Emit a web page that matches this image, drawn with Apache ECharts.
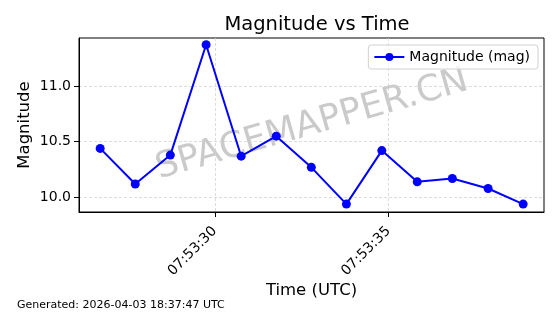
<!DOCTYPE html>
<html>
<head>
<meta charset="utf-8">
<script src="https://cdn.jsdelivr.net/npm/echarts@6/dist/echarts.min.js"></script>
<style>
html,body{margin:0;padding:0;background:#fff;}
#c{width:560px;height:314px;}
</style>
</head>
<body>
<div id="c"></div>
<script>
// Observation times (UTC, HH:MM:SS.ss)
var times = ["07:53:26.70","07:53:27.71","07:53:28.72","07:53:29.75","07:53:30.76","07:53:31.77",
             "07:53:32.78","07:53:33.79","07:53:34.81","07:53:35.83","07:53:36.84","07:53:37.87","07:53:38.88"];
// Magnitude values
var magnitudes = [10.44, 10.12, 10.38, 11.37, 10.37, 10.55, 10.27, 9.94, 10.42, 10.14, 10.17, 10.08, 9.94];
// Tick labels
var xTickLabels = ["07:53:30", "07:53:35"];
var yTickValues = [10.0, 10.5, 11.0];

function toSec(s){ var p = s.split(":"); return (+p[0])*3600 + (+p[1])*60 + (+p[2]); }
function fmt(v){
  var t = Math.round(v);
  var h = Math.floor(t/3600), m = Math.floor((t%3600)/60), s = t%60;
  function pad(n){ return (n<10?"0":"")+n; }
  return pad(h)+":"+pad(m)+":"+pad(s);
}
var xTickValues = xTickLabels.map(toSec);
var data = times.map(function(t,i){ return [toSec(t), magnitudes[i]]; });

var FONT = "DejaVu Sans";
var chart = echarts.init(document.getElementById('c'), null, {renderer:'canvas'});
chart.setOption({
  animation:false,
  backgroundColor:'#fff',
  textStyle:{fontFamily:FONT},
  title:{
    text:'Magnitude vs Time', left:312, top:10, textAlign:'center',
    textStyle:{fontFamily:FONT, fontSize:19.5, fontWeight:'normal', color:'#000'}
  },
  grid:{left:79, right:16, top:38, bottom:102, show:true, borderColor:'#000', borderWidth:1, backgroundColor:'transparent'},
  legend:{
    right:22, top:45, orient:'horizontal',
    padding:[5,8,5,5], itemWidth:30, itemHeight:10, itemGap:8,
    borderColor:'#d0d0d0', borderWidth:1, borderRadius:3, backgroundColor:'rgba(255,255,255,0.8)',
    textStyle:{fontFamily:FONT, fontSize:14, color:'#000'},
    data:['Magnitude (mag)']
  },
  xAxis:{
    type:'value', min:toSec("07:53:26.09"), max:toSec("07:53:39.48"),
    name:'Time (UTC)', nameLocation:'middle', nameGap:70, nameMoveOverlap:false,
    nameTextStyle:{fontFamily:FONT, fontSize:16.5, color:'#000'},
    axisLine:{show:true, lineStyle:{color:'#000', width:1}},
    axisTick:{show:true, length:5, lineStyle:{color:'#000'}, customValues:xTickValues},
    axisLabel:{customValues:xTickValues, formatter:fmt, rotate:45, fontFamily:FONT, fontSize:14, color:'#000', margin:17},
    splitLine:{show:true, lineStyle:{color:'#d3d3d3', width:0.8, type:[3,2]}}
  },
  yAxis:{
    type:'value', min:9.869, max:11.431,
    name:'Magnitude', nameLocation:'middle', nameGap:46, nameMoveOverlap:false,
    nameTextStyle:{fontFamily:FONT, fontSize:16.5, color:'#000'},
    axisLine:{show:true, lineStyle:{color:'#000', width:1}},
    axisTick:{show:true, length:5, lineStyle:{color:'#000'}, customValues:yTickValues},
    axisLabel:{customValues:yTickValues, formatter:function(v){return v.toFixed(1);}, fontFamily:FONT, fontSize:14, color:'#000', margin:8},
    splitLine:{show:true, lineStyle:{color:'#d3d3d3', width:0.8, type:[3,2]}}
  },
  graphic:[
    {type:'text', x:312, y:125, rotation:16*Math.PI/180, z:-10, silent:true,
     style:{text:'SPACEMAPPER.CN', fontFamily:FONT, fontSize:36, fill:'rgba(128,128,128,0.42)', textAlign:'center', textVerticalAlign:'middle'}},
    {type:'text', left:17, top:300,
     style:{text:'Generated: 2026-04-03 18:37:47 UTC', fontFamily:FONT, fontSize:11, fill:'#000'}}
  ],
  series:[{
    name:'Magnitude (mag)', type:'line', data:data,
    symbol:'circle', symbolSize:9, showAllSymbol:true,
    itemStyle:{color:'#0000ff'},
    lineStyle:{color:'#0000ff', width:2}
  }]
});
</script>
</body>
</html>
